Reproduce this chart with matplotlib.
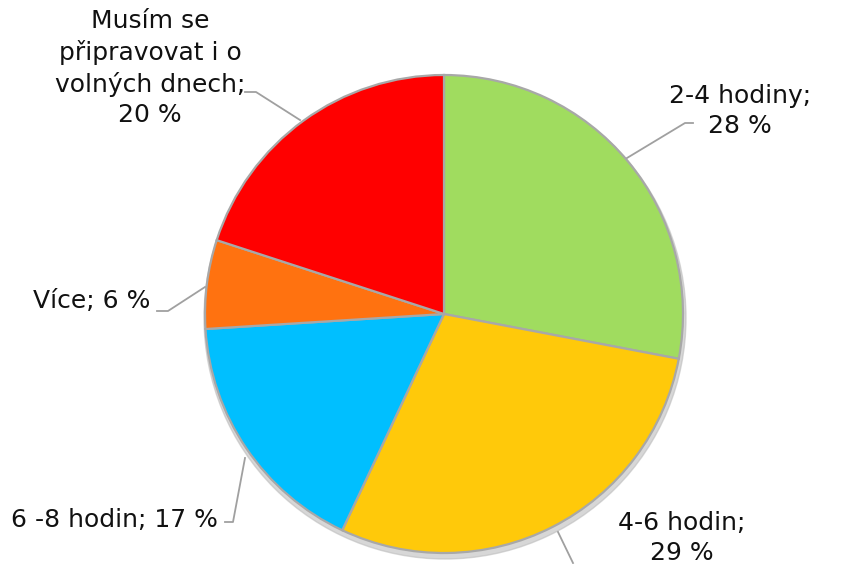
import matplotlib.pyplot as plt
from matplotlib.patches import Circle

# data
labels = ['2-4 hodiny', '4-6 hodin', '6 -8 hodin', 'Více',
          'Musím se připravovat i o volných dnech']
values = [28, 29, 17, 6, 20]
colors = ['#A0DC5F', '#FFC90A', '#00BFFF', '#FF7210', '#FF0000']

# label texts as shown in the chart (with line breaks)
label_texts = ['2-4 hodiny;\n28 %', '4-6 hodin;\n29 %', '6 -8 hodin; 17 %',
               'Více; 6 %', 'Musím se\npřipravovat i o\nvolných dnech;\n20 %']

W, H = 859, 564
fig = plt.figure(figsize=(W / 100, H / 100), dpi=100)
ax = fig.add_axes([0, 0, 1, 1])

cx, cy, r = 444, H - 314, 239

# soft shadow behind the pie
ax.add_patch(Circle((cx + 1, cy - 4), r + 2, color='#BDBDBD', alpha=0.6, zorder=0))

ax.pie(values, colors=colors, startangle=90, counterclock=False,
       center=(cx, cy), radius=r, frame=True,
       wedgeprops=dict(edgecolor='#A8A8A8', linewidth=1.6))
ax.set_xlim(0, W)
ax.set_ylim(0, H)
ax.set_aspect('equal')
ax.axis('off')

# label positions (pixel coords, y from top) and leader lines
lab_pos = [(740, 111, 'center'), (682, 538, 'center'), (218, 520, 'right'),
           (150, 301, 'right'), (150, 68, 'center')]
leaders = [[(693, 123), (685, 123), (627, 158)],
           [(573, 563), (558, 532)],
           [(225, 522), (233, 522), (245, 458)],
           [(157, 311), (168, 311), (205, 287)],
           [(245, 92), (256, 92), (300, 120)]]

for txt, (x, y, ha), ln in zip(label_texts, lab_pos, leaders):
    ax.text(x, H - y, txt, ha=ha, va='center', fontsize=18,
            family='DejaVu Sans', color='#111111', linespacing=1.35)
    ax.plot([p[0] for p in ln], [H - p[1] for p in ln], color='#A0A0A0', lw=1.3)

fig.savefig('out.png', dpi=100)
